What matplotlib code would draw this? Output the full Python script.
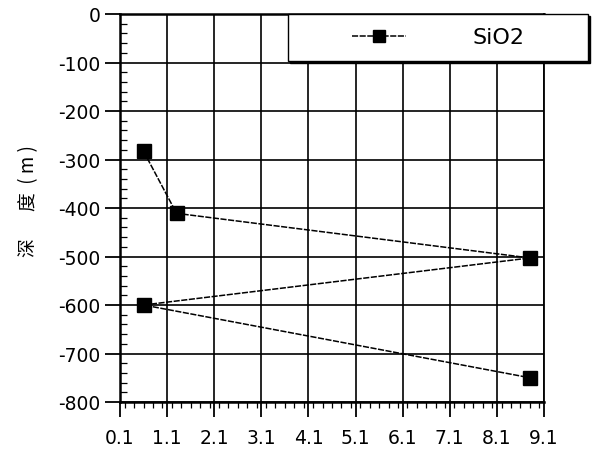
import matplotlib
matplotlib.use("Agg")
import matplotlib.pyplot as plt
from matplotlib.ticker import MultipleLocator, FixedLocator
from matplotlib.legend_handler import HandlerLine2D

plt.rcParams['axes.unicode_minus'] = False
plt.rcParams['font.family'] = ['DejaVu Sans']

# data
sio2 = [0.6, 1.3, 8.8, 0.6, 8.8]
depth = [-283, -411, -503, -600, -750]
series_label = "SiO2"
xticks = [0.1, 1.1, 2.1, 3.1, 4.1, 5.1, 6.1, 7.1, 8.1, 9.1]
xtick_labels = ["0.1", "1.1", "2.1", "3.1", "4.1", "5.1", "6.1", "7.1", "8.1", "9.1"]
yticks = [0, -100, -200, -300, -400, -500, -600, -700, -800]
ylabel = "深\u3000  度  ( m )"

fig = plt.figure(figsize=(5.95, 4.6), dpi=100)
ax = fig.add_axes([120/595, 57/460, 424/595, 388/460])

ax.plot(sio2, depth, color='black', lw=1.1, ls=(0, (4, 1)),
        marker='s', markersize=10, markerfacecolor='black',
        markeredgecolor='black', label=series_label, zorder=5, clip_on=False)

ax.set_xlim(0.1, 9.1)
ax.set_ylim(-800, 0)
ax.xaxis.set_major_locator(FixedLocator(xticks))
ax.set_xticklabels(xtick_labels)
ax.yaxis.set_major_locator(FixedLocator(yticks))
ax.xaxis.set_minor_locator(MultipleLocator(0.2))
ax.yaxis.set_minor_locator(MultipleLocator(20))

ax.grid(True, which='major', color='black', lw=1.2)
ax.set_axisbelow(True)

ax.tick_params(axis='both', which='major', direction='out', length=11, width=1.3,
               labelsize=13.5, color='black')
ax.tick_params(axis='x', which='major', pad=8)
ax.tick_params(axis='y', which='major', pad=3)
ax.tick_params(axis='x', which='minor', direction='out', length=4, width=0.9)
ax.tick_params(axis='y', which='minor', direction='in', length=5, width=0.9)

for s in ['left', 'bottom', 'top']:
    ax.spines[s].set_linewidth(1.8)
ax.spines['right'].set_linewidth(1.3)

ax.set_ylabel(ylabel, fontsize=13.5, family=['Noto Sans CJK SC', 'DejaVu Sans'])
ax.yaxis.set_label_coords(-0.19, 0.52)

fs = 16
leg = ax.legend(loc='upper left', bbox_to_anchor=(0.396, 0.0, 0.707, 1.0),
                mode='expand', borderaxespad=0, fontsize=fs, numpoints=1,
                handlelength=4.72, handletextpad=2.97, borderpad=0.6,
                fancybox=False, framealpha=1, edgecolor='black',
                shadow={'color': 'black', 'alpha': 1, 'ox': 1.5, 'oy': -1.5},
                handler_map={plt.Line2D: HandlerLine2D(xpad=2.28)})
leg.get_frame().set_linewidth(1.0)
for h in leg.legend_handles:
    h.set_markersize(9)

fig.savefig("out.png", dpi=100)
